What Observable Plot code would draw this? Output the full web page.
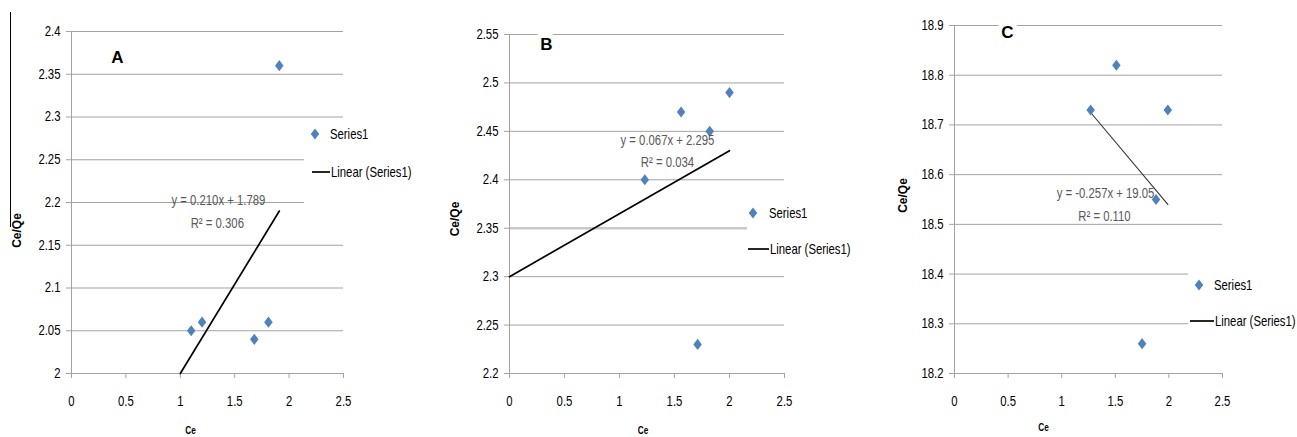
<!DOCTYPE html>
<html>
<head>
<meta charset="utf-8">
<script src="https://cdn.jsdelivr.net/npm/d3@7"></script>
<script src="https://cdn.jsdelivr.net/npm/@observablehq/plot@0.6"></script>
<style>
  body { margin: 0; background: #fff; }
  #wrap { position: relative; width: 1297px; height: 437px; overflow: hidden; background: #fff; }
  .panel { position: absolute; top: 0; }
  .panel svg { overflow: visible; }
  .legend { position: absolute; }
  .artifact { position: absolute; left: 10px; top: 12px; height: 215px; border-left: 1.5px solid #000; }
</style>
</head>
<body>
<div id="wrap"><div class="artifact"></div></div>
<script>
// ---------- data ----------
const xTicks = [0, 0.5, 1, 1.5, 2, 2.5];

// Panel A
const aCe = [1.1, 1.2, 1.68, 1.81, 1.91];
const aRatio = [2.05, 2.06, 2.04, 2.06, 2.36];
const aTrendX = [1.0, 1.91];
const aTrendY = [2.0, 2.19];
const aYTicks = [2, 2.05, 2.1, 2.15, 2.2, 2.25, 2.3, 2.35, 2.4];
const aEq = "y = 0.210x + 1.789";
const aR2 = "R² = 0.306";

// Panel B
const bCe = [1.23, 1.56, 1.82, 2.0, 1.71];
const bRatio = [2.40, 2.47, 2.45, 2.49, 2.23];
const bTrendX = [0, 2.0];
const bTrendY = [2.30, 2.43];
const bYTicks = [2.2, 2.25, 2.3, 2.35, 2.4, 2.45, 2.5, 2.55];
const bEq = "y = 0.067x + 2.295";
const bR2 = "R² = 0.034";

// Panel C
const cCe = [1.27, 1.51, 1.99, 1.88, 1.75];
const cRatio = [18.73, 18.82, 18.73, 18.55, 18.26];
const cTrendX = [1.27, 1.99];
const cTrendY = [18.725, 18.54];
const cYTicks = [18.2, 18.3, 18.4, 18.5, 18.6, 18.7, 18.8, 18.9];
const cEq = "y = -0.257x + 19.05";
const cR2 = "R² = 0.110";

const legendLabels = ["Series1", "Linear (Series1)"];
const xTitle = "Ce";
const yTitle = "Ce/Qe";

// ---------- styling ----------
const FONT = '"Liberation Sans", Arial, sans-serif';
const BLUE = "#4f81bd";
const GRID = "#a3a3a3";
const NARROW = 0.81;

const excelDiamond = {
  draw(ctx, size) {
    const s = Math.sqrt(size), h = s * 0.63, w = s * 0.48;
    ctx.moveTo(0, -h); ctx.lineTo(w, 0); ctx.lineTo(0, h); ctx.lineTo(-w, 0); ctx.closePath();
  }
};

const pts = (xs, ys) => xs.map((x, i) => ({x, y: ys[i]}));

function panel(cfg) {
  const marks = [
    Plot.gridY({ticks: cfg.yTicks, stroke: GRID, strokeOpacity: 1}),
    ...(cfg.extra || []),
    Plot.ruleX([0], {stroke: GRID, strokeOpacity: 1}),
    Plot.axisX({ticks: xTicks, tickSize: 5, tickPadding: 18, stroke: GRID, fill: "#000", fontSize: 14,
      label: null, tickFormat: d => String(d)}),
    Plot.axisY({ticks: cfg.yTicks, tickSize: 5, tickPadding: 6, stroke: GRID, fill: "#000", fontSize: 14,
      label: null, tickFormat: d => String(d)}),
    Plot.line(pts(cfg.tx, cfg.ty), {x: "x", y: "y", stroke: cfg.trendColor, strokeWidth: cfg.trendWidth}),
    Plot.dot(pts(cfg.xs, cfg.ys), {x: "x", y: "y", symbol: excelDiamond, r: 5, fill: BLUE, stroke: "none"}),
    Plot.text([cfg.eq], {x: cfg.eqPos[0], y: cfg.eqPos[1], text: d => d, fill: "#595959", fontSize: 14, textAnchor: "middle"}),
    Plot.text([cfg.r2], {x: cfg.r2Pos[0], y: cfg.r2Pos[1], text: d => d, fill: "#595959", fontSize: 14, textAnchor: "middle"}),
    Plot.text([cfg.letter], {frameAnchor: "top-left", dx: cfg.letterD[0], dy: cfg.letterD[1], text: d => d,
      textAnchor: "middle", lineAnchor: "middle", fontSize: 17, fontWeight: "bold", fill: "#000",
      stroke: "#fff", strokeWidth: 10}),
    Plot.text([xTitle], {frameAnchor: "bottom", dx: cfg.xTitleD[0], dy: cfg.xTitleD[1], text: d => d,
      textAnchor: "middle", lineAnchor: "middle", fontSize: 11, fontWeight: "bold", fill: "#000"}),
    Plot.text([yTitle], {frameAnchor: "left", dx: cfg.yTitleD[0], dy: cfg.yTitleD[1], rotate: -90, text: d => d,
      textAnchor: "middle", lineAnchor: "middle", fontSize: 12, fontWeight: "bold", fill: "#000"})
  ];
  const p = Plot.plot({
    width: cfg.width, height: 437,
    marginLeft: cfg.m[0], marginRight: cfg.m[1], marginTop: cfg.m[2], marginBottom: cfg.m[3],
    x: {domain: [0, 2.5]},
    y: {domain: cfg.yDomain},
    style: {fontFamily: FONT, fontSize: "14px", background: "transparent", overflow: "visible"},
    marks
  });
  const div = document.createElement("div");
  div.className = "panel";
  div.style.left = cfg.left + "px";
  div.appendChild(p);
  document.getElementById("wrap").appendChild(div);
}

panel({
  left: 0, width: 430, m: [71, 87, 31, 64], yDomain: [2, 2.4], yTicks: aYTicks,
  xs: aCe, ys: aRatio, tx: aTrendX, ty: aTrendY, trendColor: "#000", trendWidth: 1.7,
  eq: aEq, r2: aR2, eqPos: [1.35, 2.202], r2Pos: [1.34, 2.175],
  letter: "A", letterD: [46, 26], xTitleD: [-17, 57], yTitleD: [-54, 28]
});
panel({
  left: 430, width: 440, m: [79, 86, 34, 64], yDomain: [2.2, 2.55], yTicks: bYTicks,
  xs: bCe, ys: bRatio, tx: bTrendX, ty: bTrendY, trendColor: "#000", trendWidth: 1.7,
  eq: bEq, r2: bR2, eqPos: [1.436, 2.4406], r2Pos: [1.436, 2.418],
  letter: "B", letterD: [37, 10], xTitleD: [-4, 57], yTitleD: [-54, 15],
  extra: [Plot.ruleY([2.35], {stroke: "#c8c8c8", strokeWidth: 2.5})]
});
panel({
  left: 870, width: 427, m: [84, 75, 25, 64], yDomain: [18.2, 18.9], yTicks: cYTicks,
  xs: cCe, ys: cRatio, tx: cTrendX, ty: cTrendY, trendColor: "#333", trendWidth: 1.1,
  eq: cEq, r2: cR2, eqPos: [1.409, 18.562], r2Pos: [1.399, 18.516],
  letter: "C", letterD: [53, 7], xTitleD: [-45, 54], yTitleD: [-51, -4]
});

// ---------- emulate the narrow (Arial Narrow–like) face of the original in the plots ----------
document.querySelectorAll("#wrap .panel text").forEach(t => {
  const s = t.textContent;
  if (s === "A" || s === "B" || s === "C") return;
  let f = NARROW;
  if (s === xTitle) f = 0.75;
  if (s === yTitle) f = 1.0;
  const L = t.getComputedTextLength();
  if (L > 0) {
    t.setAttribute("textLength", (L * f).toFixed(1));
    t.setAttribute("lengthAdjust", "spacingAndGlyphs");
  }
});

// ---------- legends (SVG overlays with white background) ----------
function legend(box) {
  const svg = d3.create("svg")
    .attr("class", "legend")
    .attr("width", box.w).attr("height", box.h)
    .style("left", box.left + "px").style("top", box.top + "px");
  svg.append("rect").attr("width", box.w).attr("height", box.h).attr("fill", "#fff");
  const sym = d3.symbol(excelDiamond, 25 * Math.PI)();
  svg.append("path").attr("d", sym).attr("fill", BLUE)
    .attr("transform", `translate(${box.dia[0]},${box.dia[1]})`);
  svg.append("line").attr("x1", box.ln[0]).attr("x2", box.ln[1]).attr("y1", box.ln[2]).attr("y2", box.ln[2])
    .attr("stroke", "#000").attr("stroke-width", 1.7);
  [[box.t1, legendLabels[0]], [box.t2, legendLabels[1]]].forEach(([pos, label]) => {
    svg.append("text")
      .attr("transform", `translate(${pos[0]},${pos[1]}) scale(${NARROW},1)`)
      .attr("dy", "0.35em")
      .attr("font-family", FONT).attr("font-size", 14).attr("fill", "#000").text(label);
  });
  document.getElementById("wrap").appendChild(svg.node());
}
legend({left: 304, top: 122, w: 130, h: 84, dia: [11, 12], t1: [26, 12], ln: [8, 26, 50], t2: [27, 50]});
legend({left: 747, top: 188, w: 123, h: 80, dia: [6, 25], t1: [22, 25], ln: [1, 22, 61], t2: [23, 61]});
legend({left: 1188, top: 255, w: 109, h: 88, dia: [11, 30], t1: [26, 30], ln: [2, 26, 66], t2: [27, 66]});
</script>
</body>
</html>
